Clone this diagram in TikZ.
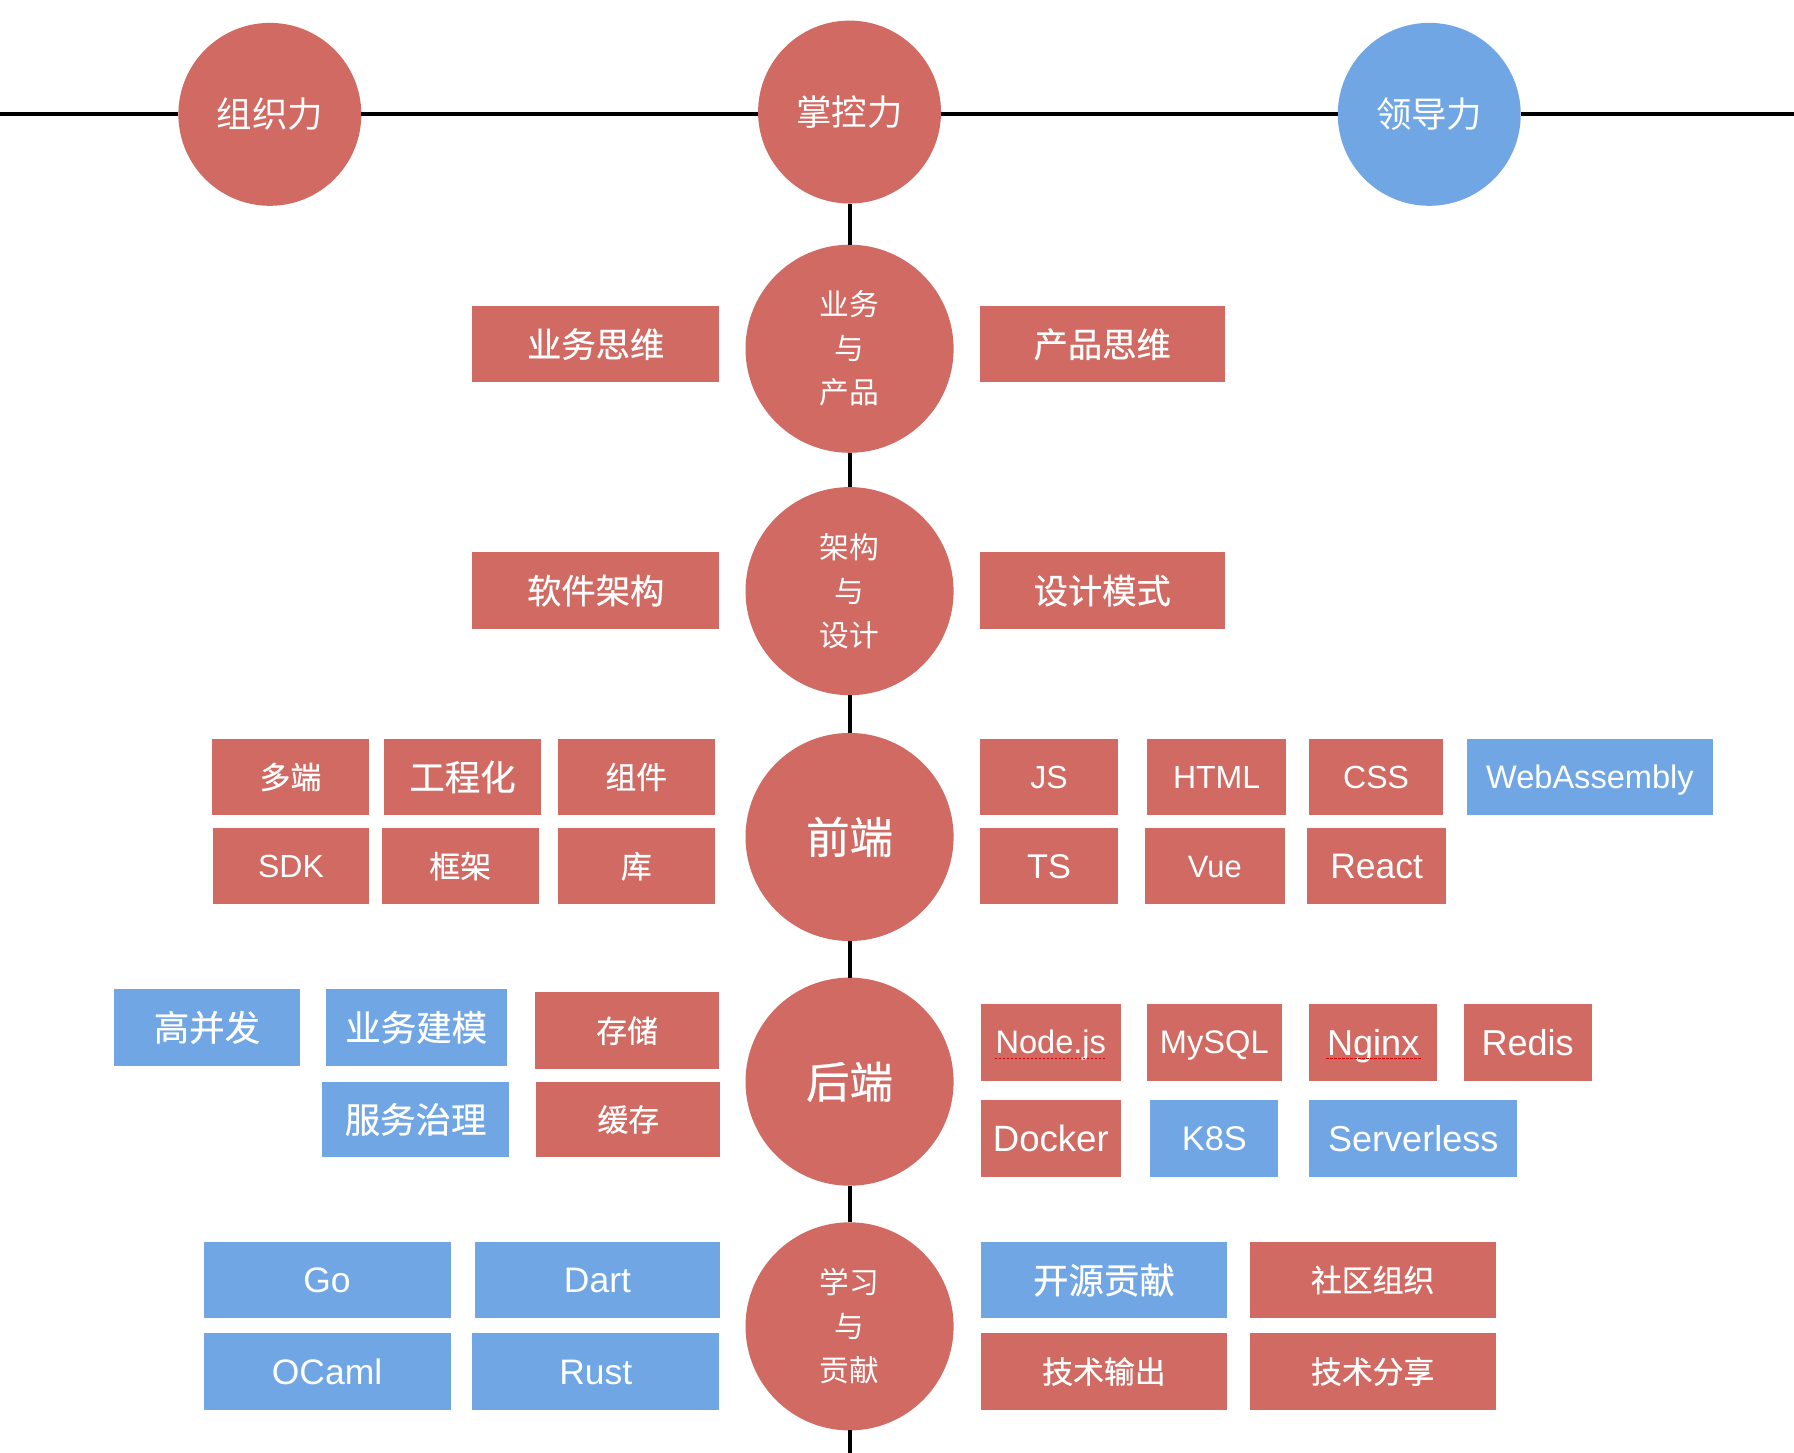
\documentclass[tikz,border=0pt]{standalone}
\usepackage{fontspec}
\setmainfont{Liberation Sans}
\newfontfamily\cjk{Noto Sans CJK SC}
\newfontfamily\cjkm{Noto Sans CJK SC}[FakeBold=0.5]
\definecolor{rd}{HTML}{D06A63}
\definecolor{bl}{HTML}{6FA6E3}
\begin{document}
\begin{tikzpicture}[x=1pt,y=-1pt,
  bx/.style={inner sep=0pt, outer sep=0pt, text=white, anchor=center},
  lat/.style={font=\fontsize{#1}{#1}\selectfont, text height={0.72*#1}, text depth=0pt},
  zh/.style={font=\cjkm\fontsize{#1}{#1}\selectfont, text height={0.88*#1}, text depth={0.12*#1}},
  zhr/.style={font=\cjk\fontsize{#1}{#1}\selectfont, text height={0.88*#1}, text depth={0.12*#1}},
  circ/.style={circle, fill=#1, inner sep=0pt, outer sep=0pt, text=white, align=center},
  topc/.style={circ=#1, minimum size=160, zhr=31},
  midc/.style={circ=rd, minimum size=182, font=\cjk\fontsize{26}{38.5}\selectfont},
  bigc/.style={circ=rd, minimum size=182, zh=38},
  axis/.style={line width=3.4pt, black},
  spell/.style={red!85!black, line width=1.2pt, dash pattern=on 2pt off 1.5pt}
]
\useasboundingbox (0,0) rectangle (1569,1270);
\coordinate (L) at (0,100);
\coordinate (R) at (1569,100);
\coordinate (B) at (743,1272);

% circles
\node[topc=rd] (org)  at (236,100) {组织力};
\node[topc=rd] (ctrl) at (743,98) {掌控力};
\node[topc=bl] (lead) at (1250,100) {领导力};
\node[midc] (biz)  at (743,305) {业务\\与\\产品};
\node[midc] (arch) at (743,517) {架构\\与\\设计};
\node[bigc] (fe)   at (743,732) {前端};
\node[bigc] (be)   at (743,946) {后端};
\node[midc] (learn) at (743,1160) {学习\\与\\贡献};

% connectors
\draw[axis] (L) -- (org);
\draw[axis] (org.east) -- (org.east -| ctrl.west);
\draw[axis] (lead.west -| ctrl.east) -- (lead.west);
\draw[axis] (lead) -- (R);
\draw[axis] (ctrl) -- (biz);
\draw[axis] (biz) -- (arch);
\draw[axis] (arch) -- (fe);
\draw[axis] (fe) -- (be);
\draw[axis] (be) -- (learn);
\draw[axis] (learn) -- (B);

% business & product
\node[bx, fill=rd, minimum width=216, minimum height=66, zh=30] (ywsw) at (521,301) {业务思维};
\node[bx, fill=rd, minimum width=214, minimum height=66, zh=30] (cpsw) at (964,301) {产品思维};
% architecture
\node[bx, fill=rd, minimum width=216, minimum height=67, zh=30] (rjjg) at (521,516.5) {软件架构};
\node[bx, fill=rd, minimum width=214, minimum height=67, zh=30] (sjms) at (964,516.5) {设计模式};

% front end left
\node[bx, fill=rd, minimum width=138, minimum height=67, zh=27] (dd)  at (254,679.5) {多端};
\node[bx, fill=rd, minimum width=137, minimum height=67, zh=31] (gch) at (404.5,679.5) {工程化};
\node[bx, fill=rd, minimum width=137, minimum height=67, zh=27] (zj)  at (556.5,679.5) {组件};
\node[bx, fill=rd, minimum width=137, minimum height=67, lat=28] (sdk) at (254.5,757.5) {SDK};
\node[bx, fill=rd, minimum width=137, minimum height=67, zh=27] (kj)  at (402.5,757.5) {框架};
\node[bx, fill=rd, minimum width=137, minimum height=67, zh=27] (ku)  at (556.5,757.5) {库};
% front end right
\node[bx, fill=rd, minimum width=121, minimum height=67, lat=28] (js)   at (917.5,679.5) {JS};
\node[bx, fill=rd, minimum width=122, minimum height=67, lat=28] (html) at (1064,679.5) {HTML};
\node[bx, fill=rd, minimum width=117, minimum height=67, lat=28] (css)  at (1203.5,679.5) {CSS};
\node[bx, fill=bl, minimum width=215, minimum height=67, lat=28.5] (wasm) at (1390.5,679.5) {WebAssembly};
\node[bx, fill=rd, minimum width=121, minimum height=67, lat=30] (ts)    at (917.5,757.5) {TS};
\node[bx, fill=rd, minimum width=123, minimum height=67, lat=27] (vue)   at (1062.5,757.5) {Vue};
\node[bx, fill=rd, minimum width=122, minimum height=67, lat=31] (react) at (1204,757.5) {React};

% back end left
\node[bx, fill=bl, minimum width=162, minimum height=67, zh=31] (gbf)  at (181,898.5) {高并发};
\node[bx, fill=bl, minimum width=158, minimum height=67, zh=31] (ywjm) at (364,898.5) {业务建模};
\node[bx, fill=rd, minimum width=161, minimum height=67, zh=27] (cc)   at (548.5,901.5) {存储};
\node[bx, fill=bl, minimum width=163, minimum height=66, zh=31] (fwzl) at (363.5,979) {服务治理};
\node[bx, fill=rd, minimum width=161, minimum height=66, zh=27] (hc)   at (549.5,979) {缓存};
% back end right
\node[bx, fill=rd, minimum width=122, minimum height=67, lat=28.5] (node)  at (919,911.5) {Node.js};
\node[bx, fill=rd, minimum width=118, minimum height=67, lat=28.5] (mysql) at (1062,911.5) {MySQL};
\node[bx, fill=rd, minimum width=112, minimum height=67, lat=31.5] (nginx) at (1201,911.5) {Nginx};
\node[bx, fill=rd, minimum width=112, minimum height=67, lat=31.5] (redis) at (1336,911.5) {Redis};
\node[bx, fill=rd, minimum width=122, minimum height=67, lat=32] (docker) at (919,995.5) {Docker};
\node[bx, fill=bl, minimum width=112, minimum height=67, lat=30] (k8s)    at (1062,995.5) {K8S};
\node[bx, fill=bl, minimum width=182, minimum height=67, lat=31.5] (sls)  at (1236,995.5) {Serverless};
\draw[spell] ([xshift=-49pt,yshift=-14pt]node.center) -- ([xshift=47pt,yshift=-14pt]node.center);
\draw[spell] ([xshift=-41pt,yshift=-14pt]nginx.center) -- ([xshift=42pt,yshift=-14pt]nginx.center);

% learning left
\node[bx, fill=bl, minimum width=216, minimum height=67, lat=31] (go)    at (286,1119.5) {Go};
\node[bx, fill=bl, minimum width=215, minimum height=67, lat=31] (dart)  at (522.5,1119.5) {Dart};
\node[bx, fill=bl, minimum width=216, minimum height=67, lat=31] (ocaml) at (286,1199.5) {OCaml};
\node[bx, fill=bl, minimum width=216, minimum height=67, lat=31] (rust)  at (521,1199.5) {Rust};
% learning right
\node[bx, fill=bl, minimum width=215, minimum height=67, zh=31] (kygx) at (965.5,1119.5) {开源贡献};
\node[bx, fill=rd, minimum width=215, minimum height=67, zh=27] (sqzz) at (1200.5,1119.5) {社区组织};
\node[bx, fill=rd, minimum width=215, minimum height=67, zh=27] (jssc) at (965.5,1199.5) {技术输出};
\node[bx, fill=rd, minimum width=215, minimum height=67, zh=27] (jsfx) at (1200.5,1199.5) {技术分享};
\end{tikzpicture}
\end{document}
